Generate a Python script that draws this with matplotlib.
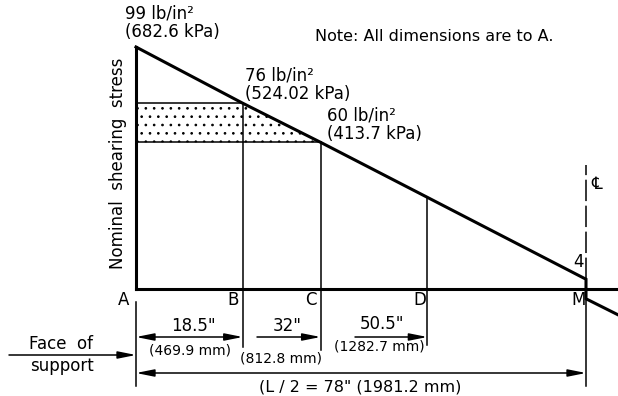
import numpy as np
import matplotlib
matplotlib.use('Agg')
import matplotlib.pyplot as plt
from matplotlib.patches import Polygon

plt.rcParams['font.family'] = ['DejaVu Sans']
plt.rcParams['hatch.linewidth'] = 0.7

# points along the half span, distance from A (face of support) in inches
points = ['A', 'B', 'C', 'D', 'M']
dist_in = [0, 18.5, 32, 50.5, 78]
dist_mm = ['', '469.9', '812.8', '1282.7', '1981.2']
# nominal shearing stress at those points, lb/in2
stress = [99, 76, 60, 37.5, 4]
stress_kpa = ['682.6', '524.02', '413.7', '', '']
# past the centerline the stress changes sign
beyond_x = [78, 83.5]
beyond_y = [-4, -10.5]

# picture size and scale (pixels)
W, H = 618, 396
x0_px, base_px = 136, 289
px_in = 450 / 78
px_psi = 242 / 99

def X(px):
    return (px - x0_px) / px_in

def Y(py):
    return (base_px - py) / px_psi

fig = plt.figure(figsize=(W / 100, H / 100), dpi=100)
ax = fig.add_axes([0, 0, 1, 1])
ax.set_xlim(X(0), X(W))
ax.set_ylim(Y(H), Y(0))
ax.axis('off')

k = 'black'
# shaded band between 60 and 76 lb/in2
shade = Polygon([(0, stress[2]), (0, stress[1]), (dist_in[1], stress[1]),
                 (dist_in[2], stress[2])], closed=True, facecolor='white',
                edgecolor=k, lw=0, hatch='..')
ax.add_patch(shade)

# stress diagram
ax.plot(dist_in + beyond_x, stress + beyond_y, color=k, lw=2.2,
        solid_joinstyle='miter')
ax.plot([0, 0], [0, stress[0]], color=k, lw=2.2)
ax.plot([0, X(W)], [0, 0], color=k, lw=2.2)
ax.plot([0, dist_in[1]], [stress[1], stress[1]], color=k, lw=1.1)
ax.plot([0, dist_in[2]], [stress[2], stress[2]], color=k, lw=1.1)

# verticals at B, C, D running down as extension lines
ext_bottom = {'B': 347, 'C': 350, 'D': 345}
for p, x, s in zip(points[1:4], dist_in[1:4], stress[1:4]):
    ax.plot([x, x], [Y(ext_bottom[p]), s], color=k, lw=1.1)
ax.plot([0, 0], [Y(302), Y(386)], color=k, lw=1.1)
ax.plot([dist_in[4]] * 2, [Y(300), Y(386)], color=k, lw=1.1)
# centerline
ax.plot([dist_in[4]] * 2, [stress[4], Y(165)], color=k, lw=1.1,
        linestyle=(0, (14, 3)))
ax.text(X(597), Y(184), '\u2104', fontsize=12, ha='center', va='center')

# point labels
lab_x = [124, 233, 311, 420, 579]
for p, lx in zip(points, lab_x):
    ax.text(X(lx), Y(300), p, fontsize=12, ha='center', va='center')

# stress labels (two lines each)
ax.text(X(125), Y(23), '%d lb/in\u00b2\n(%s kPa)' % (stress[0], stress_kpa[0]),
        fontsize=12, ha='left', va='center', linespacing=1.05)
ax.text(X(245), Y(85), '%d lb/in\u00b2\n(%s kPa)' % (stress[1], stress_kpa[1]),
        fontsize=12, ha='left', va='center', linespacing=1.05)
ax.text(X(327), Y(125), '%d lb/in\u00b2\n(%s kPa)' % (stress[2], stress_kpa[2]),
        fontsize=12, ha='left', va='center', linespacing=1.05)
ax.text(X(578), Y(262), '%d' % stress[4], fontsize=12, ha='center',
        va='center')
ax.text(X(315), Y(36), 'Note: All dimensions are to A.', fontsize=11.5,
        ha='left', va='center')
ax.text(X(118), Y(163), 'Nominal  shearing  stress', fontsize=12,
        rotation=90, ha='center', va='center')

# dimension lines
arr = dict(color=k, lw=1.1, shrinkA=0, shrinkB=0, mutation_scale=12)

def dim(xa, xb, py, style):
    ax.annotate('', xy=(xb, Y(py)), xytext=(xa, Y(py)),
                arrowprops=dict(arrowstyle=style, **arr))

one = '-|>,head_length=0.9,head_width=0.18'
both = '<|-|>,head_length=0.9,head_width=0.18'
dim(0, dist_in[1], 337, both)
dim(X(257), dist_in[2], 337, one)
dim(X(355), dist_in[3], 337, one)
dim(0, dist_in[4], 373, both)
dim(X(9), 0, 355, one)

ax.text(X(193), Y(326), '%g"' % dist_in[1], fontsize=12, ha='center', va='center')
ax.text(X(190), Y(351), '(%s mm)' % dist_mm[1], fontsize=10, ha='center', va='center')
ax.text(X(287), Y(326), '%g"' % dist_in[2], fontsize=12, ha='center', va='center')
ax.text(X(281), Y(359), '(%s mm)' % dist_mm[2], fontsize=10, ha='center', va='center')
ax.text(X(382), Y(324), '%g"' % dist_in[3], fontsize=12, ha='center', va='center')
ax.text(X(379), Y(346), '(%s mm)' % dist_mm[3], fontsize=10, ha='center', va='center')
ax.text(X(360), Y(387), '(L / 2 = %g" (%s mm)' % (dist_in[4], dist_mm[4]),
        fontsize=11.5, ha='center', va='center')
ax.text(X(61), Y(344), 'Face  of', fontsize=12, ha='center', va='center')
ax.text(X(62), Y(366), 'support', fontsize=12, ha='center', va='center')

fig.savefig('out.png', dpi=100, facecolor='white')
